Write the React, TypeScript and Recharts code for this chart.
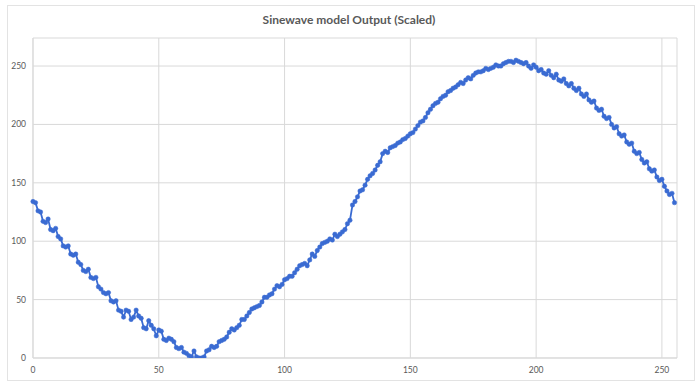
import React from 'react';
import { LineChart, Line, XAxis, YAxis, CartesianGrid } from 'recharts';

const CHART_TITLE = 'Sinewave model Output (Scaled)';

// one reading per sample, index = sample number (0..255)
const OUTPUT_VALUES: number[] = [
  134, 133, 126, 125, 117, 116, 119, 110, 109, 111,
  104, 102, 96, 95, 96, 89, 88, 89, 82, 80,
  75, 74, 76, 69, 68, 69, 61, 59, 56, 55,
  56, 49, 48, 49, 41, 40, 35, 41, 40, 33,
  35, 41, 36, 34, 26, 25, 32, 28, 25, 19,
  24, 23, 16, 15, 17, 16, 14, 9, 8, 9,
  5, 4, 2, 1, 6, 1, 0, 0, 1, 6,
  7, 10, 9, 10, 14, 15, 16, 18, 22, 25,
  24, 26, 28, 33, 33, 36, 39, 42, 43, 44,
  45, 48, 52, 52, 54, 55, 59, 62, 61, 63,
  67, 68, 70, 70, 73, 76, 79, 80, 81, 79,
  84, 89, 87, 92, 95, 98, 99, 100, 102, 101,
  106, 104, 106, 108, 110, 115, 118, 131, 134, 138,
  143, 144, 148, 153, 156, 158, 161, 165, 168, 175,
  177, 176, 180, 181, 182, 184, 185, 187, 188, 190,
  192, 193, 196, 199, 202, 203, 206, 210, 213, 216,
  218, 219, 222, 224, 225, 228, 229, 231, 232, 234,
  236, 235, 238, 240, 239, 242, 244, 245, 245, 246,
  248, 247, 248, 249, 251, 250, 250, 252, 253, 254,
  254, 253, 255, 254, 253, 252, 253, 250, 248, 251,
  249, 246, 247, 244, 243, 246, 242, 240, 243, 238,
  237, 239, 235, 233, 235, 231, 229, 231, 226, 224,
  226, 221, 219, 220, 214, 212, 213, 207, 205, 206,
  200, 197, 198, 192, 190, 191, 185, 183, 184, 177,
  175, 176, 170, 167, 168, 162, 160, 161, 155, 152,
  153, 147, 143, 140, 141, 133,
];

const X_TICKS = [0, 50, 100, 150, 200, 250];
const Y_TICKS = [0, 50, 100, 150, 200, 250];

const data = OUTPUT_VALUES.map((v, i) => ({ x: i, y: v }));

const LINE_BLUE = '#3a6bd2';
const AXIS_GRAY = '#d9d9d9';
const LABEL_GRAY = '#595959';
const FONT = 'Lato, "Open Sans", sans-serif';

export default function App() {
  return (
    <div
      style={{
        position: 'fixed',
        left: 0,
        top: 0,
        width: 700,
        height: 388,
        background: '#fff',
        fontFamily: FONT,
      }}
    >
      <div
        style={{
          position: 'absolute',
          left: 7,
          top: 5,
          width: 686,
          height: 374,
          border: '1px solid #e3e3e3',
        }}
      />
      <div
        style={{
          position: 'absolute',
          left: 0,
          top: 12,
          width: 698,
          textAlign: 'center',
          fontSize: 12,
          fontWeight: 700,
          color: LABEL_GRAY,
        }}
      >
        {CHART_TITLE}
      </div>
      <div style={{ position: 'absolute', left: 0, top: 0 }}>
        <LineChart width={700} height={388} data={data} margin={{ top: 38, right: 23, bottom: 10, left: 8 }}>
          <CartesianGrid stroke={AXIS_GRAY} strokeWidth={1} verticalPoints={undefined} horizontal vertical />
          <XAxis
            type="number"
            dataKey="x"
            domain={[0, 256]}
            ticks={X_TICKS}
            height={20}
            tickSize={0}
            tickMargin={9}
            axisLine={{ stroke: AXIS_GRAY }}
            tick={{ fill: LABEL_GRAY, fontSize: 8.5, fontFamily: FONT }}
          />
          <YAxis
            type="number"
            domain={[0, 274]}
            ticks={Y_TICKS}
            width={25}
            tickSize={0}
            tickMargin={7}
            axisLine={{ stroke: AXIS_GRAY }}
            tick={{ fill: LABEL_GRAY, fontSize: 8.5, fontFamily: FONT }}
            allowDataOverflow
          />
          <Line
            type="linear"
            dataKey="y"
            stroke={LINE_BLUE}
            strokeWidth={1.8}
            dot={{ r: 2.2, fill: LINE_BLUE, stroke: LINE_BLUE, strokeWidth: 0.5 }}
            isAnimationActive={false}
          />
        </LineChart>
      </div>
    </div>
  );
}
